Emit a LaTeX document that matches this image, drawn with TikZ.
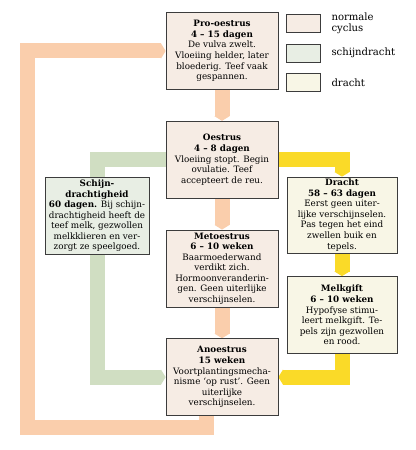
\documentclass[tikz,border=0pt]{standalone}
\usepackage{fontspec}
\setmainfont{DejaVu Serif}
\usetikzlibrary{arrows.meta,positioning,backgrounds}

\definecolor{bandoranje}{RGB}{250,206,172}
\definecolor{bandgroen}{RGB}{208,222,194}
\definecolor{bandgeel}{RGB}{250,218,40}
\definecolor{vulnormaal}{RGB}{246,236,228}
\definecolor{vulschijn}{RGB}{232,238,228}
\definecolor{vuldracht}{RGB}{248,246,230}
\definecolor{randgrijs}{RGB}{60,60,60}

\begin{document}
\begin{tikzpicture}[
  x=0.03cm, y=-0.03cm,
  box/.style={draw=randgrijs, line width=0.6pt, minimum width=3.36cm, minimum height=2.31cm, inner sep=1pt, align=center, font=\fontsize{7.5}{9}\selectfont},
  band/.style={line width=0.45cm, -{Triangle[length=4pt,width=0.45cm]}},
  swatch/.style={draw=randgrijs, line width=0.5pt, minimum width=1.02cm, minimum height=0.54cm, inner sep=0pt},
  legtekst/.style={align=left, anchor=west, inner sep=0pt, font=\fontsize{8.6}{9.6}\selectfont},
  node distance=0.93cm
]
  \useasboundingbox (0,0) rectangle (415,450);

  \node[box, fill=vulnormaal] (prooestrus) at (222,51) {\textbf{Pro-oestrus}\\\textbf{4 – 15 dagen}\\De vulva zwelt.\\Vloeiing helder, later\\bloederig. Teef vaak\\gespannen.};
  \node[box, fill=vulnormaal, below=of prooestrus] (oestrus) {\textbf{Oestrus}\\\textbf{4 – 8 dagen}\\Vloeiing stopt. Begin\\ovulatie. Teef\\accepteert de reu.};
  \node[box, fill=vulnormaal, below=of oestrus] (metoestrus) {\textbf{Metoestrus}\\\textbf{6 – 10 weken}\\Baarmoederwand\\verdikt zich.\\Hormoonveranderin-\\gen. Geen uiterlijke\\verschijnselen.};
  \node[box, fill=vulnormaal, below=of metoestrus] (anoestrus) {\textbf{Anoestrus}\\\textbf{15 weken}\\Voortplantingsmecha-\\nisme `op rust'. Geen\\uiterlijke\\verschijnselen.};

  \node[box, fill=vulschijn, minimum width=3.12cm] (schijn) at (97,216) {\textbf{Schijn-}\\\textbf{drachtigheid}\\\textbf{60 dagen.} Bij schijn-\\drachtigheid heeft de\\teef melk, gezwollen\\melkklieren en ver-\\zorgt ze speelgoed.};
  \node[box, fill=vuldracht, minimum width=3.3cm, minimum height=2.28cm] (dracht) at (342,215) {\textbf{Dracht}\\\textbf{58 – 63 dagen}\\Eerst geen uiter-\\lijke verschijnselen.\\Pas tegen het eind\\zwellen buik en\\tepels.};
  \node[box, fill=vuldracht, minimum width=3.3cm] (melkgift) at (342,315) {\textbf{Melkgift}\\\textbf{6 – 10 weken}\\Hypofyse stimu-\\leert melkgift. Te-\\pels zijn gezwollen\\en rood.};

  \node[swatch, fill=vulnormaal] (lgnormaal) at (303,23) {};
  \node[swatch, fill=vulschijn] (lgschijn) at (303,53) {};
  \node[swatch, fill=vuldracht] (lgdracht) at (303,82.5) {};
  \node[legtekst, right=0.33cm of lgnormaal] (txnormaal) {normale\\cyclus};
  \node[legtekst, right=0.33cm of lgschijn] (txschijn) {schijndracht};
  \node[legtekst, right=0.33cm of lgdracht] (txdracht) {dracht};

  \coordinate (hoekonder) at (27,427);
  \coordinate (groenhoek) at ([xshift=-2.04cm]anoestrus.west);

  \begin{scope}[on background layer]
    \draw[band, bandoranje] (prooestrus) -- (oestrus);
    \draw[band, bandoranje] (oestrus) -- (metoestrus);
    \draw[band, bandoranje] (metoestrus) -- (anoestrus);
    \draw[band, bandoranje] ([xshift=-0.48cm]anoestrus.south) |- (hoekonder) |- (prooestrus.west);
    \draw[band, bandgroen] (oestrus.west) -| (groenhoek) -- (anoestrus.west);
    \draw[band, bandgeel] (oestrus.east) -| (dracht.north);
    \draw[band, bandgeel] (dracht) -- (melkgift);
    \draw[band, bandgeel] (melkgift.south) |- (anoestrus.east);
  \end{scope}
\end{tikzpicture}
\end{document}
